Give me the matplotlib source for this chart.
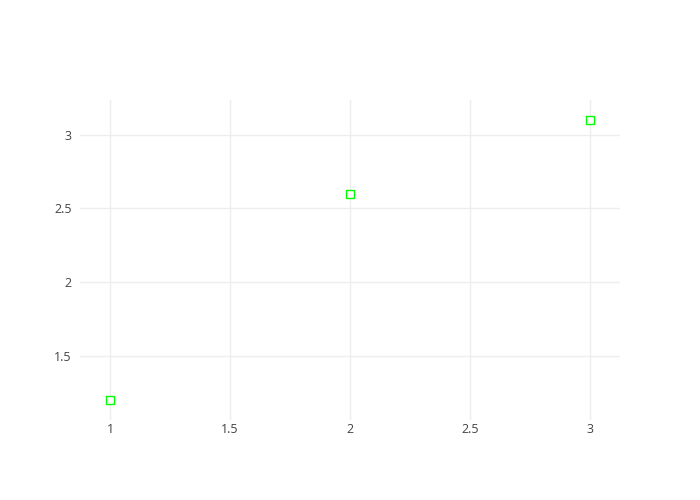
import matplotlib
matplotlib.use("Agg")
import matplotlib.pyplot as plt

x_vals = [1, 2, 3]
y_vals = [1.2, 2.6, 3.1]
x_ticks = [1, 1.5, 2, 2.5, 3]
x_labels = ["1", "1.5", "2", "2.5", "3"]
y_ticks = [1.5, 2, 2.5, 3]
y_labels = ["1.5", "2", "2.5", "3"]

plt.rcParams['font.family'] = ['Open Sans', 'DejaVu Sans']

fig = plt.figure(figsize=(7, 5), dpi=100)
ax = fig.add_axes([80 / 700, 80 / 500, 540 / 700, 320 / 500])

ax.plot(x_vals, y_vals, linestyle='none', marker='s', markersize=6,
        markerfacecolor='white', markeredgecolor='#00ff00', markeredgewidth=1.0,
        zorder=3)

ax.set_xlim(0.875, 3.125)
ax.set_ylim(1.065, 3.235)
ax.set_xticks(x_ticks)
ax.set_xticklabels(x_labels)
ax.set_yticks(y_ticks)
ax.set_yticklabels(y_labels)

ax.grid(True, color='#eeeeee', linewidth=1)
ax.set_axisbelow(True)
for s in ax.spines.values():
    s.set_visible(False)
ax.tick_params(axis='x', length=0, labelsize=9, labelcolor='#444444', pad=2)
ax.tick_params(axis='y', length=0, labelsize=9, labelcolor='#444444', pad=6)

fig.savefig('out.png', dpi=100)
